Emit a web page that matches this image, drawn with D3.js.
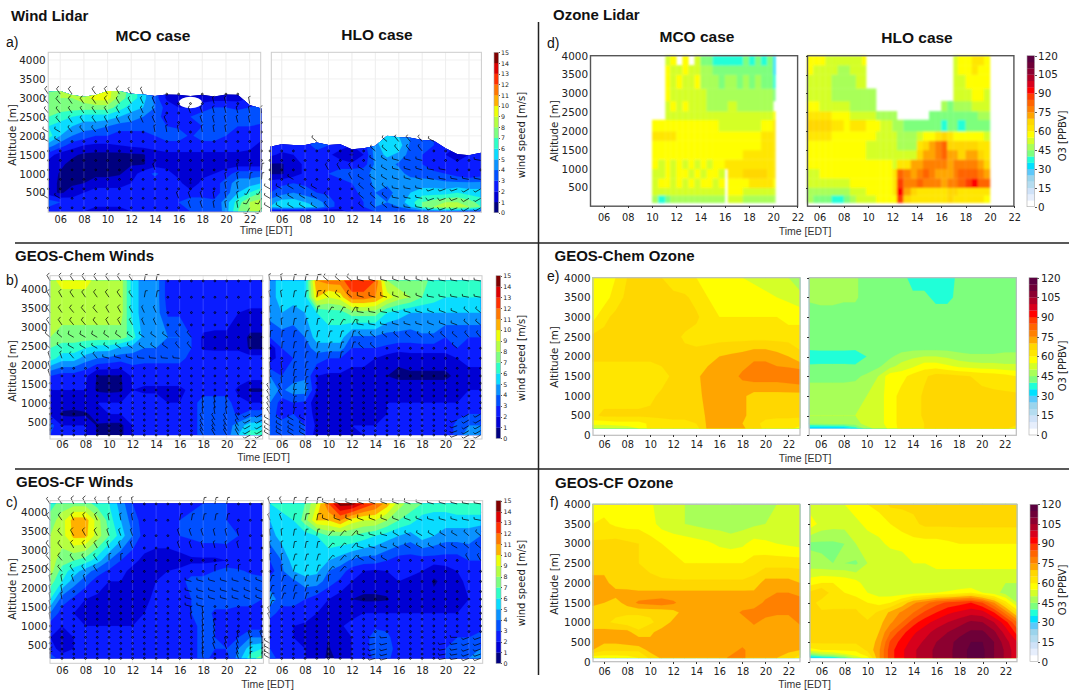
<!DOCTYPE html>
<html>
<head>
<meta charset="utf-8">
<script src="https://cdn.jsdelivr.net/npm/d3@7"></script>
<style>
  html, body { margin: 0; padding: 0; background: #fff; overflow: hidden; }
  svg { display: block; }
  .tick line, .domain { shape-rendering: crispEdges; }
</style>
</head>
<body>
<svg id="chart" width="1069" height="690"></svg>
<script>
const _ = null;

// Shared axis values
const hours = [5, 6, 7, 8, 9, 10, 11, 12, 13, 14, 15, 16, 17, 18, 19, 20, 21, 22, 23];
const timeTicks = [6, 8, 10, 12, 14, 16, 18, 20, 22];
const altTicks = [500, 1000, 1500, 2000, 2500, 3000, 3500, 4000];
const altTicksZero = [0, 500, 1000, 1500, 2000, 2500, 3000, 3500, 4000];

const windBands = [0, 1, 2, 3, 4, 5, 6, 7, 8, 9, 10, 11, 12, 13, 14];
const windColors = ['#00007f', '#0000d4', '#0a1cff', '#0050ff', '#0a92ff', '#0adcff', '#2dffc8', '#7dff80',
    '#b5ff41', '#ecff08', '#ffb000', '#ff7700', '#ff3000', '#dc0000', '#800000'];
const windTicks = [0, 1, 2, 3, 4, 5, 6, 7, 8, 9, 10, 11, 12, 13, 14, 15];

const ozoneBands = [0, 5, 10, 15, 20, 25, 30, 35, 40, 45, 50, 55, 60, 65, 70, 75, 80, 85, 90, 95, 100, 105, 110, 115];
const ozoneColors = ['#ffffff', '#e6eefc', '#cfe2f8', '#b4dcf0', '#9bd4ec', '#5cc8fa', '#00e0ff', '#20ffd8',
    '#7dff7d', '#a8ff58', '#d4ff28', '#ffff00', '#ffe600', '#ffd700', '#ffa500', '#ff8000',
    '#ff6400', '#ff3c00', '#ff0000', '#d8001c', '#b00026', '#8c0030', '#6e0038', '#5c003f'];
const ozoneTicks = [0, 15, 30, 45, 60, 75, 90, 105, 120];

// a) wind lidar
const lidarWindMcoAlts = [0, 250, 500, 750, 1000, 1250, 1500, 1750, 2000, 2250, 2500, 2750, 3000, 3250];
const lidarWindMco = [
    [2.5, 2.5, 2.5, 2, 1.5, 1.5, 1.5, 2, 2.5, 2.5, 2.5, 2.5, 3, 3, 3, 4.5, 7, 8, 8.5],
    [3.5, 3, 2.5, 2.5, 2.5, 2.5, 2.5, 2.5, 2.5, 2.5, 2.5, 3, 3.5, 3.5, 3.2, 4.5, 6.5, 8, 8.5],
    [1.5, 0.8, 1.5, 2, 2.5, 2.5, 2.5, 2.5, 2.5, 2.5, 2.5, 2.5, 2.5, 2.5, 2.5, 3.5, 5, 6, 7],
    [1.5, 0.8, 0.8, 1, 1.5, 1.5, 1.5, 2, 2.5, 2.5, 2.5, 2.5, 0.8, 2.5, 2.5, 3.5, 4.5, 4.5, 5],
    [1.5, 0.9, 0.8, 0.7, 0.7, 0.7, 0.9, 1.5, 2.5, 3.2, 2.5, 1.5, 1.5, 1.5, 2, 2.5, 3.5, 3.5, 3.5],
    [1.5, 1.2, 0.7, 0.6, 0.5, 0.6, 0.7, 0.9, 0.9, 1.5, 1.5, 1.5, 1.5, 1.2, 1.5, 1.5, 1.5, 1.5, 1.5],
    [2.5, 1.5, 1.2, 0.8, 0.7, 0.7, 0.7, 0.8, 0.9, 1.5, 1.8, 1.8, 1.8, 1.8, 1.8, 1.8, 1.8, 1.8, 1.8],
    [4.5, 3.5, 2.5, 2, 1.8, 1.8, 2, 2.2, 2.4, 2.5, 2.5, 2.5, 2.5, 2.5, 2.5, 2.5, 2.5, 2.2, 1.8],
    [6.5, 5, 4, 3.5, 3, 3, 2.5, 2.5, 2.5, 3, 3.6, 3.6, 2.8, 3.6, 3.6, 3, 2.8, 2.8, 2.2],
    [6, 5.5, 5, 4.5, 4.5, 4, 3.5, 3.5, 3.5, 3.5, 3, 2.8, 2.6, 3, 3, 3, 3, 3, 2.8],
    [7, 6.5, 6, 5.5, 5.5, 5.5, 5, 4.5, 4, 3.5, 2.5, 2.8, 3, 3.5, 3.5, 3, 3.5, 3.5, 3.5],
    [7.5, 7.5, 7.5, 7.5, 7.5, 7.5, 6.5, 5.5, 5, 4, 2.5, 2, 2, 2.5, 3, 3, 2.8, 3, 3.5],
    [7.5, 8, 8, 8.5, 9.5, 9.5, 7.5, 6.5, 5.5, 3.5, 1.8, 1.5, 1.5, 1.5, 1.5, 1.5, 1.5, 2, 2],
    [7.5, 8, 8, 8.5, 9.5, 9.5, 8, 6.5, 5.5, 3.5, 1.8, 1.5, 1.5, 1.5, 1.5, 1.5, 1.5, 2, 2]
];
const lidarWindMcoTop = [3160, 3180, 3075, 3030, 3075, 3180, 3180, 3110, 3090, 3050, 3090, 3080, 3050, 3080, 3040, 3090, 3080, 2810, 2720];
const lidarWindMcoDirs = [
    [300, 320, 330, 330, 340, 350, 210],
    [270, 300, 330, 340, 350, 350, 5],
    [300, 320, 340, 350, 350, 350, 0],
    [320, 325, 330, 335, 340, 345, 350],
    [325, 325, 330, 335, 345, 350, 350]
];
const lidarWindMcoGap = { hour: 17, alt: 2880, halfHours: 0.98, halfAlt: 150 };

const lidarWindHloAlts = [0, 125, 250, 500, 750, 1000, 1250, 1500, 1750, 2000];
const lidarWindHlo = [
    [1.5, 1, 1, 0.8, 0.8, 0.8, 1.5, 2.5, 2.5, 3, 3, 3, 3, 3, 3.5, 3.5, 3.5, 3, 3],
    [5, 5.5, 5.5, 5.5, 5, 3.5, 2.5, 2.5, 3, 4, 3.5, 4, 5, 7, 8, 8.5, 8.5, 8, 7],
    [4.5, 5.5, 5.5, 5, 4.5, 3.5, 2.5, 2.5, 3, 4, 4, 4.5, 5.5, 7, 7.5, 8, 8, 7.5, 6.5],
    [3, 3.5, 4, 3.5, 3, 2.8, 2.5, 2.5, 3.5, 4, 3.5, 4.5, 5, 5.5, 5.5, 5.5, 6, 5.5, 5.5],
    [2.5, 2.8, 3, 2.8, 2.5, 2.5, 2.5, 3, 3.5, 4.2, 4.2, 4.5, 4.8, 4.5, 4.5, 4.2, 4.2, 4.2, 4.2],
    [0.9, 0.9, 1.5, 2.2, 2.5, 3, 3.5, 3.8, 3.8, 4.2, 4.5, 4.5, 3.5, 3.5, 3.2, 3, 2.5, 2, 2.5],
    [0.9, 0.9, 1.5, 2.2, 2.5, 2.5, 2.5, 2.2, 2.5, 4.2, 4.5, 3.8, 3.5, 3, 2.5, 2.2, 2.2, 2.5, 3],
    [2.2, 1.8, 2, 2.5, 2.5, 2.2, 1.5, 0.8, 2, 4.5, 5.2, 4.8, 3.5, 3, 2.5, 2, 1.5, 2, 3],
    [2.5, 2.5, 2.5, 2.5, 3.5, 3, 2.5, 2, 2.5, 4.5, 6, 5.5, 3.8, 3, 3, 2.5, 2, 2, 3],
    [2.5, 2.5, 2.5, 2.5, 3.5, 3, 2.5, 2, 2.5, 5, 6, 5, 4, 3, 3, 2.5, 2, 2, 3]
];
const lidarWindHloTop = [1710, 1780, 1760, 1760, 1820, 1760, 1775, 1645, 1670, 1740, 2000, 1960, 1950, 1890, 1870, 1670, 1520, 1490, 1550];
const lidarWindHloDirs = [
    [300, 300, 320, 310, 280, 250, 240],
    [280, 300, 330, 300, 285, 280, 280],
    [290, 310, 340, 310, 320, 300, 320]
];

const lidarBarbAlts = [100, 350, 600, 850, 1100, 1350, 1600, 1850, 2100, 2350, 2600, 2850, 3100];
const lidarDirAlts = [250, 1000, 1750, 2500, 3250];

// b) and c) model winds, shared levels
const modelWindAlts = [150, 400, 700, 1000, 1340, 1710, 2180, 2450, 2730, 3380, 3790, 4230];
const modelBarbAlts = [148, 262, 394, 545, 703, 854, 1003, 1180, 1338, 1515, 1709, 1911, 2176, 2441, 2732, 3058, 3384, 3790, 4220];
const modelDirAlts = [300, 1000, 1900, 2500, 3300, 4200];
const dirHours = [5, 8, 11, 14, 17, 20, 23];

const chemWindMco = [
    [3, 2, 2, 2, 0.9, 0.7, 0.7, 2, 2.5, 2.5, 2.5, 2.5, 2.5, 3.5, 3.5, 3.5, 5, 6.5, 6.5],
    [3.5, 2, 2, 2, 0.9, 0.7, 0.7, 2, 2.5, 2.5, 2.5, 2.5, 2.5, 3.5, 3.5, 3.5, 4.5, 5.5, 5.5],
    [1.8, 0.8, 0.7, 0.8, 1.5, 2, 2, 2.5, 2.5, 2.5, 2, 2, 2.5, 3.5, 3.5, 3.5, 2.8, 3.5, 3.5],
    [1.8, 1.5, 1.5, 1.8, 2, 2, 2, 2.5, 2.5, 2.5, 2, 2, 2.5, 3.5, 3.5, 3.5, 2.2, 2, 2],
    [2, 2, 2, 2, 0.8, 0.7, 0.8, 2, 1.8, 1.8, 1.8, 1.8, 2.2, 2.5, 2.5, 2.5, 1.8, 0.8, 0.8],
    [3, 2.5, 2.5, 2.2, 0.9, 0.9, 0.9, 2.2, 2.5, 2.5, 2.5, 2.5, 2.5, 2.5, 2.5, 2.5, 2.5, 2.5, 2.5],
    [6.5, 5.5, 5.5, 4.5, 4, 3.8, 3.5, 3.5, 3.2, 3.2, 3.2, 3.2, 2.8, 2.8, 2.5, 2.5, 2.5, 2.5, 2.5],
    [7, 6.5, 6.5, 6, 5.5, 5.5, 4.8, 4.5, 4, 4, 3.8, 3.8, 3, 1.8, 1.8, 1.8, 1.8, 0.8, 0.8],
    [8, 7.5, 7.5, 7.5, 7.5, 7.5, 7.5, 6.5, 4.5, 4.5, 4, 4, 3, 1.8, 1.8, 1.8, 1.5, 0.8, 0.8],
    [8.5, 8.5, 8.5, 8.5, 8.5, 8.5, 8.5, 5.5, 4.5, 4.5, 2.8, 2.8, 2.8, 2.8, 2.5, 2.5, 2, 1.8, 1.8],
    [8.5, 8.5, 8.5, 8.5, 8.5, 8.5, 8.5, 5.5, 4.5, 4.5, 2.5, 2.5, 2.5, 2.5, 2.5, 2.5, 2.5, 2.5, 2.5],
    [8.5, 9.5, 9.5, 9.5, 8.5, 8.5, 8.5, 5.5, 4.5, 4.5, 2.5, 2.5, 2.5, 2.5, 2.5, 2.5, 2.5, 2.5, 2.5]
];
const chemWindMcoDirs = [
    [0, 0, 0, 0, 330, 330, 240],
    [350, 0, 0, 0, 350, 350, 240],
    [340, 320, 285, 275, 275, 300, 320],
    [310, 300, 305, 305, 320, 330, 340],
    [325, 320, 330, 335, 330, 340, 350],
    [330, 325, 325, 10, 20, 10, 10]
];

const chemWindHlo = [
    [4, 3.5, 3, 3, 1.5, 1, 1, 1.5, 2, 2, 2, 2, 2, 2, 2, 2, 3.5, 4.5, 4.5],
    [4, 3.5, 3, 3, 1.8, 1.2, 1.5, 2, 2, 2, 2, 2, 2, 2, 2, 2, 3.5, 4, 4],
    [3.5, 2.5, 3, 2.8, 1.5, 1, 1, 1.8, 1.8, 1.8, 2, 2, 2, 2, 2, 2, 2.5, 3, 3],
    [4, 2.5, 3, 2.8, 1.2, 1, 1, 1.5, 1.5, 1.5, 2, 2, 2, 2, 2, 2, 2, 2, 2.2],
    [4.5, 3.8, 4.5, 4.5, 2, 1.5, 1.5, 1.5, 1.5, 1.5, 1.5, 1.5, 1.5, 1.5, 1.5, 1.5, 1.8, 2, 2],
    [4, 3, 3.5, 3.8, 2, 1.8, 1.8, 1.5, 1.5, 1.5, 1, 0.8, 0.8, 0.8, 0.8, 0.8, 1.2, 1.5, 1.5],
    [1.5, 2.5, 3, 3, 3.5, 3, 3, 2.5, 2.5, 2, 1.5, 1.2, 1.5, 1.5, 1.5, 1.5, 2, 2.5, 2.5],
    [1.2, 3, 3.5, 3.5, 4.5, 4.5, 4.5, 3, 3, 3, 2.8, 2.5, 2.5, 2.5, 2.5, 2.5, 3, 2.8, 2.8],
    [3, 3.5, 3.5, 4, 5.5, 5.5, 5.5, 3.8, 3.8, 3.8, 3.5, 3.5, 3.5, 3.8, 3.8, 3, 3, 3, 3],
    [4.5, 5, 4.5, 5, 6, 6.5, 6.5, 7.5, 7.5, 7.5, 6, 5.5, 5, 5, 5, 5, 5, 5, 5],
    [4.5, 5.5, 5.5, 5.5, 10, 9, 9.5, 11.5, 11.5, 11, 9.5, 8.5, 8, 7, 6.5, 6, 6, 6, 6],
    [4.5, 5.5, 5.5, 5.5, 11, 11.5, 11.5, 13, 13, 12, 8, 7.5, 7.5, 7.5, 6.5, 6.5, 6.5, 7, 7]
];
const chemWindHloDirs = [
    [300, 300, 0, 0, 0, 250, 240],
    [330, 10, 0, 0, 0, 0, 240],
    [355, 10, 10, 0, 0, 0, 320],
    [5, 10, 15, 310, 310, 310, 320],
    [355, 10, 30, 280, 285, 290, 310],
    [350, 10, 310, 285, 290, 280, 280]
];

const cfWindMco = [
    [3.5, 2.5, 2, 2, 2, 2, 2, 2, 2, 2.5, 2.5, 2.5, 2.5, 3.5, 2.5, 2.5, 4.5, 6.5, 7.5],
    [2.5, 1.5, 2, 2, 2, 2, 2, 2, 2, 2.5, 2.5, 2.5, 2.5, 3.5, 3, 3, 4, 5.5, 6],
    [2, 0.8, 2, 2, 2, 2, 2, 2, 2.2, 2.5, 2.5, 2.5, 2.5, 3.5, 3, 2.8, 3, 4, 4],
    [2.5, 2, 2, 2, 2, 2, 2, 2, 2.2, 2.5, 2.5, 2.5, 2.5, 3.5, 3, 2.8, 2.5, 2.5, 2.5],
    [4, 2.5, 2, 1.5, 1.5, 1.5, 0.9, 1.8, 2, 2.5, 2.5, 2.8, 3, 3.5, 2.8, 2.8, 2.5, 2.5, 2.5],
    [6, 3.5, 2.8, 2, 1.8, 1.8, 1.8, 1.8, 1.8, 2.2, 2.5, 2.5, 3, 3.5, 3.5, 3.5, 3.5, 3.5, 3],
    [7.5, 6, 4.5, 3.5, 2.5, 2, 2, 1.8, 1.8, 2, 2.2, 2.5, 3.5, 3.5, 3.5, 3.8, 3.5, 3.5, 3.5],
    [8.5, 6.5, 5.5, 4.5, 3.5, 2.8, 2.2, 1.8, 1.8, 1.8, 2, 2.2, 2.5, 2.5, 3, 3.5, 3.2, 2.8, 2.5],
    [8.5, 7.5, 7, 6.5, 5.5, 4, 3, 2.2, 1.8, 1.5, 1.5, 1.5, 1.8, 1.8, 1.8, 2, 2, 2, 2],
    [8, 8.5, 10.3, 10.3, 8.5, 7, 5.5, 4, 2.5, 2.5, 2.5, 3, 3.2, 3.5, 3.5, 3.5, 3, 2.5, 2.5],
    [7.5, 8.5, 10.5, 10.5, 8.5, 6.5, 5, 3.5, 2.5, 2.5, 2.5, 3, 3.5, 3.5, 3.5, 3, 2.5, 2.5, 2.5],
    [6.5, 7.5, 7.5, 7.5, 6.5, 6, 4.5, 3, 2.5, 2.5, 2.5, 2.5, 2.5, 3, 3.5, 3, 2.5, 2.5, 2.5]
];
const cfWindMcoDirs = [
    [0, 0, 0, 0, 350, 340, 0],
    [350, 0, 0, 0, 350, 345, 340],
    [350, 340, 0, 280, 285, 285, 290],
    [320, 325, 0, 0, 0, 0, 0],
    [320, 330, 340, 335, 340, 345, 0],
    [325, 335, 350, 10, 10, 10, 10]
];

const cfWindHlo = [
    [3.5, 2.5, 2, 2, 1.5, 0.8, 1.2, 2, 2.5, 3.2, 3.2, 2.5, 2.5, 2.5, 2.5, 3, 3.5, 4, 4.5],
    [3, 2.5, 2, 2, 1.5, 0.9, 1.5, 2, 2.5, 3.5, 3.5, 2.5, 2.5, 2.5, 2.5, 3, 3.5, 3.5, 4],
    [2.2, 2, 2, 1.8, 1.2, 1, 1.5, 2, 2.5, 3.5, 3.2, 2.5, 2.5, 2.5, 2.5, 2.5, 3, 3, 3.5],
    [2.2, 2, 2, 1.8, 1.5, 1.2, 1.8, 2.5, 2.5, 2.8, 2.8, 2.5, 2.5, 2.5, 2.5, 2.5, 2.5, 2.5, 2.5],
    [3.5, 2.5, 2.5, 2.5, 2, 1.5, 1.2, 1.5, 2, 2, 2, 2, 2, 2, 2, 2, 2, 2.2, 2.5],
    [4.5, 3.5, 3.5, 3, 2.5, 2, 1.5, 1, 0.8, 0.8, 0.9, 1.5, 1.5, 1.2, 1.2, 1.2, 1.5, 2, 2.5],
    [3.5, 3.5, 3.8, 4.5, 4.5, 3.5, 2.8, 2, 1.5, 1.5, 1.5, 2, 1.8, 1.5, 0.9, 1.2, 1.5, 2.5, 2.5],
    [2.5, 3.8, 5, 5.5, 5.2, 4, 3.5, 2.5, 2, 1.8, 2, 2.2, 2.2, 2, 1.2, 1.5, 2, 2.5, 2.5],
    [3, 4, 5.5, 5.5, 5.5, 5, 4.5, 3.8, 3.5, 3.5, 3, 2.5, 2.5, 2.5, 2.5, 2.5, 2.5, 3, 3],
    [4.5, 5.5, 5.5, 5.5, 6, 7, 7, 7, 6.5, 6, 5.5, 5, 4.5, 5.5, 5, 4.5, 4.5, 4.5, 4],
    [5, 5.5, 6, 7.5, 10, 10, 11, 9.5, 9, 9, 8, 7, 6.5, 5.5, 5.5, 5.5, 5.5, 5.5, 5.5],
    [6, 6.5, 6.5, 7, 9, 12, 14.5, 14.5, 13, 12, 10.5, 8.5, 7.5, 7, 6.5, 6.5, 7, 7, 7]
];
const cfWindHloDirs = [
    [300, 350, 0, 255, 255, 260, 250],
    [340, 10, 0, 265, 270, 270, 250],
    [20, 15, 0, 0, 330, 340, 350],
    [355, 15, 40, 300, 320, 330, 330],
    [355, 10, 40, 285, 300, 300, 310],
    [340, 10, 290, 290, 290, 285, 280]
];

// d) ozone lidar, cells between edges
const lidarO3AltEdges = [100, 300, 500, 750, 1000, 1250, 1500, 1750, 2000, 2300, 2530, 2800, 3130, 3500, 3750, 4000];
const lidarO3McoHourEdges = [10, 10.5, 11.1, 11.5, 12, 12.5, 13, 13.5, 14, 14.5, 15, 15.5, 16, 16.25, 17, 17.5, 18, 18.5, 19, 19.5, 20, 20.17];
const lidarO3Mco = [
    [45, 38, 43, 46, 46, 46, 47, 47, 47, 46, 46, 47, _, 52, 50, 48, 47, 46, 46, 47, 46],
    [52, 54, 54, 52, 52, 52, 52, 53, 52, 52, 52, 53, _, 56, 55, 54, 52, 52, 50, 50, 50],
    [54, 56, 58, 54, 56, 54, 56, 54, 56, 57, 54, 55, _, 58, 58, 58, 60, 60, 60, 60, 58],
    [54, 54, 58, 53, 56, 58, 54, 57, 54, 57, 58, 54, _, 62, 63, 65, 66, 67, 66, 64, 60],
    [56, 54, 57, 54, 57, 54, 57, 54, 57, 54, 58, 58, 60, 60, 62, 63, 64, 64, 64, 64, 62],
    [57, 57, 58, 56, 57, 56, 57, 57, 57, 58, 59, 59, 59, 59, 59, 60, 60, 62, 62, 64, 63],
    [59, 59, 59, 59, 58, 58, 58, 58, 58, 58, 59, 59, 59, 58, 59, 58, 58, 59, 62, 64, 63],
    [60, 62, 64, 61, 59, 59, 59, 58, 58, 58, 59, 59, 59, 58, 58, 58, 58, 59, 60, 60, 64],
    [58, 58, 58, 58, 56, 56, 56, 56, 56, 56, 56, 54, 54, 54, 54, 54, 54, 54, 56, 58, 64],
    [_, _, 54, 52, 52, 54, 50, 52, 50, 50, 50, 50, 50, 50, 50, 50, 52, 50, 50, 52, 56],
    [_, _, 54, 56, 52, 56, 50, 52, 50, 48, 48, 48, 48, 50, 48, 48, 48, 48, 48, 48, _],
    [_, _, 56, 52, 54, 52, 50, 52, 50, 48, 46, 46, 46, 48, 46, 46, 46, 46, 46, 46, 40],
    [_, _, 57, 52, 56, 54, 52, 56, 48, 48, 46, 44, 46, 46, 44, 46, 44, 46, 44, 42, 36],
    [_, _, 58, 52, 54, 56, 50, 54, 46, 46, 42, 42, 44, 42, 44, 42, 42, 42, 44, 42, 34],
    [_, _, 52, 56, _, 56, _, 54, 44, 42, 38, 36, 38, 38, 36, 42, 36, 40, 38, 44, 34]
];
const lidarO3HloHourEdges = [5, 5.5, 6, 6.5, 7, 7.5, 8, 8.5, 9, 9.5, 9.83, 10.65, 11, 11.5, 12, 12.36, 12.9, 13.5, 14, 14.5, 15, 15.5, 16, 16.5, 17, 17.35, 18, 18.5, 19, 19.5, 20];
const lidarO3Hlo = [
    [46, 44, 42, 40, 38, 38, 44, 48, 52, 54, 52, 55, 56, 55, 58, 85, 66, 62, 60, 60, 60, 62, 63, 66, 62, 62, 60, 60, 60, 58],
    [48, 48, 46, 48, 46, 48, 48, 52, 54, 54, 56, 56, 56, 56, 60, 92, 72, 66, 62, 62, 62, 64, 64, 66, 66, 64, 64, 62, 62, 60],
    [52, 52, 52, 54, 54, 54, 54, 56, 56, 58, 58, 58, 58, 58, 62, 88, 78, 76, 80, 78, 76, 76, 74, 76, 78, 80, 85, 92, 84, 80],
    [54, 54, 55, 55, 56, 56, 56, 56, 58, 58, 58, 58, 58, 58, 60, 82, 76, 74, 78, 80, 76, 74, 74, 72, 76, 80, 84, 80, 76, 74],
    [56, 57, 57, 58, 57, 57, 58, 58, 58, 58, 58, 56, 56, 55, 54, 60, 62, 70, 72, 75, 75, 77, 78, 74, 76, 76, 78, 76, 72, 68],
    [57, 58, 58, 58, 58, 57, 57, 56, 56, 56, 54, 54, 50, 52, 50, 54, 50, 54, 68, 70, 74, 78, 80, 72, 70, 68, 72, 70, 66, 64],
    [58, 58, 58, 58, 58, 58, 57, 57, 56, 56, 54, 54, 52, 52, 50, 48, 46, 48, 60, 66, 70, 78, 80, 68, 65, 65, 66, 66, 63, 60],
    [60, 60, 60, 60, 59, 59, 58, 58, 57, 57, 56, 54, 52, 52, 50, 48, 46, 46, 54, 57, 59, 64, 68, 60, 59, 57, 59, 59, 57, 54],
    [66, 66, 67, 66, 62, 60, 58, 60, 60, 60, 56, 55, 54, 52, 48, 46, 44, 44, 44, 42, 42, 40, 38, 40, 40, 38, 40, 42, 42, 44],
    [60, 62, 62, 60, 58, 56, 56, 54, 52, 52, 50, 48, 48, 46, 46, _, _, _, _, _, 44, 42, 42, 40, 40, 40, 44, 44, 46, 46],
    [56, 56, 54, 52, 52, 50, 50, 48, 48, 48, 48, _, _, _, _, _, _, _, _, _, _, _, 46, 44, 46, 48, 48, 50, 50, 50],
    [52, 52, 50, 50, 48, 48, 46, 46, 48, 46, 46, _, _, _, _, _, _, _, _, _, _, _, _, _, 50, 52, 54, 56, 56, 54],
    [54, 52, 50, 50, 48, 46, 46, 48, 50, 50, _, _, _, _, _, _, _, _, _, _, _, _, _, _, 52, 54, 56, 58, 58, 56],
    [56, 54, 52, 50, 50, 48, 48, 50, 52, 54, _, _, _, _, _, _, _, _, _, _, _, _, _, _, 54, 56, 58, 60, 58, 58],
    [58, 56, 56, 52, 52, 50, 52, 54, 54, 56, _, _, _, _, _, _, _, _, _, _, _, _, _, _, 54, 58, 58, 60, 60, 58]
];

// e) GEOS-Chem ozone
const chemO3McoAlts = [178, 300, 500, 1000, 1500, 2000, 2500, 3000, 3500, 4000];
const chemO3Mco = [
    [50, 50, 50, 52, 55, 62, 63, 63, 63, 63, 71, 72, 72, 71, 67, 64, 63, 62, 58],
    [57, 57, 58, 58, 58, 61, 63, 64, 64, 65, 71, 72, 72, 70, 66, 64, 63, 63, 62],
    [64, 66, 66, 66, 66, 66, 66, 66, 66, 67, 71, 72, 72, 71, 68, 66, 66, 66, 66],
    [62, 63, 63, 63, 63, 64, 66, 66, 66, 69, 71, 72, 72, 71, 68, 68, 68, 68, 68],
    [62, 62, 62, 62, 62, 62, 63, 66, 67, 69, 72, 73, 73, 76, 78, 78, 78, 79, 80],
    [66, 66, 66, 66, 66, 66, 67, 67, 67, 67, 68, 70, 71, 72, 74, 74, 72, 70, 66],
    [66, 66, 66, 66, 66, 67, 67, 67, 64, 63, 63, 63, 63, 63, 63, 63, 63, 63, 63],
    [58, 64, 66, 67, 67, 68, 68, 68, 68, 66, 62, 60, 60, 60, 60, 60, 60, 58, 58],
    [56, 57, 63, 66, 67, 68, 68, 66, 66, 63, 60, 59, 58, 58, 57, 56, 55, 54, 52],
    [55, 56, 60, 65, 67, 67, 65, 63, 60, 60, 58, 56, 55, 55, 54, 53, 52, 50, 46]
];
const chemO3HloAlts = [178, 300, 500, 1000, 1500, 1750, 2000, 2250, 2500, 3000, 3500, 4000];
const chemO3Hlo = [
    [30, 30, 30, 31, 37, 48, 52, 56, 62, 62, 65, 66, 66, 66, 66, 66, 66, 66, 63],
    [45, 46, 47, 47, 48, 52, 53, 57, 62, 62, 65, 66, 66, 66, 66, 66, 66, 66, 66],
    [50, 50, 50, 50, 50, 52, 53, 57, 62, 62, 66, 66, 66, 66, 66, 66, 66, 66, 66],
    [47, 47, 47, 47, 48, 50, 53, 57, 62, 62, 66, 66, 66, 66, 66, 66, 66, 66, 66],
    [44, 44, 44, 44, 44, 46, 50, 58, 58, 62, 64, 67, 67, 66, 65, 64, 63, 62, 60],
    [41, 41, 41, 41, 41, 42, 44, 48, 52, 54, 58, 58, 56, 54, 53, 52, 52, 51, 51],
    [36, 37, 37, 37, 36, 40, 42, 44, 47, 49, 50, 50, 49, 47, 46, 46, 46, 47, 47],
    [42, 42, 42, 42, 42, 42, 42, 42, 42, 42, 42, 42, 42, 42, 42, 42, 42, 42, 42],
    [42, 42, 42, 42, 42, 42, 42, 42, 42, 42, 42, 42, 42, 42, 42, 42, 42, 42, 42],
    [42, 42, 42, 42, 42, 42, 42, 42, 42, 42, 42, 42, 42, 42, 42, 42, 42, 42, 42],
    [46, 47, 47, 46, 46, 42, 42, 42, 42, 41, 41, 39, 39, 41, 42, 42, 42, 42, 42],
    [47, 47, 47, 46, 46, 42, 42, 42, 42, 38, 38, 38, 38, 41, 42, 42, 42, 42, 42]
];

// f) GEOS-CF ozone
const cfO3McoAlts = [100, 300, 500, 750, 1000, 1250, 1500, 1750, 2000, 2500, 3000, 3500, 4000];
const cfO3Mco = [
    [57, 57, 57, 58, 60, 66, 71, 71, 71, 71, 72, 73, 76, 76, 72, 71, 70, 68, 62],
    [70, 66, 66, 66, 66, 72, 72, 72, 72, 72, 72, 72, 73, 76, 72, 72, 71, 71, 70],
    [71, 71, 71, 72, 74, 71, 72, 72, 72, 72, 72, 72, 72, 73, 72, 72, 71, 71, 71],
    [72, 72, 72, 72, 66, 69, 72, 72, 72, 72, 72, 72, 72, 72, 72, 72, 72, 72, 72],
    [66, 66, 64, 62, 62, 64, 67, 71, 72, 72, 72, 72, 72, 72, 76, 73, 72, 72, 76],
    [66, 66, 66, 66, 66, 66, 66, 68, 72, 72, 72, 72, 72, 76, 77, 77, 76, 76, 78],
    [72, 70, 68, 72, 76, 77, 78, 76, 72, 72, 71, 71, 71, 71, 72, 76, 78, 79, 80],
    [73, 73, 72, 72, 71, 71, 71, 71, 71, 71, 71, 71, 71, 71, 71, 73, 75, 75, 72],
    [72, 72, 67, 66, 66, 66, 66, 66, 66, 66, 66, 66, 66, 66, 67, 72, 72, 72, 70],
    [67, 67, 67, 66, 65, 64, 62, 61, 60, 60, 60, 60, 60, 60, 62, 63, 63, 63, 63],
    [66, 66, 67, 66, 65, 62, 60, 59, 58, 57, 56, 54, 53, 54, 57, 56, 55, 54, 53],
    [60, 61, 59, 58, 58, 57, 53, 51, 50, 49, 48, 48, 47, 48, 49, 50, 51, 52, 52],
    [58, 58, 58, 58, 58, 56, 52, 52, 50, 48, 47, 47, 47, 47, 48, 48, 50, 52, 52]
];
const cfO3HloAlts = [100, 200, 300, 500, 750, 1000, 1250, 1500, 1750, 2000, 2500, 3000, 3500, 4000];
const cfO3Hlo = [
    [32, 34, 36, 42, 52, 58, 74, 88, 94, 99, 103, 106, 108, 113, 116, 116, 110, 104, 96],
    [45, 50, 52, 55, 58, 63, 74, 88, 94, 99, 103, 106, 108, 113, 116, 116, 110, 104, 96],
    [58, 60, 60, 61, 61, 66, 74, 88, 94, 99, 103, 106, 108, 113, 116, 116, 110, 104, 96],
    [66, 66, 66, 66, 66, 66, 72, 86, 92, 97, 101, 105, 108, 112, 115, 115, 110, 102, 95],
    [66, 66, 66, 66, 66, 66, 70, 80, 88, 94, 98, 102, 105, 108, 111, 111, 106, 98, 88],
    [66, 66, 66, 66, 66, 66, 68, 74, 80, 88, 93, 97, 100, 103, 106, 105, 100, 92, 80],
    [66, 66, 66, 66, 66, 62, 66, 71, 76, 80, 86, 90, 94, 96, 98, 97, 90, 78, 64],
    [68, 62, 63, 63, 63, 60, 58, 60, 66, 74, 78, 83, 86, 88, 90, 85, 75, 62, 50],
    [66, 70, 62, 60, 58, 55, 53, 52, 52, 53, 54, 55, 56, 58, 60, 55, 52, 48, 46],
    [58, 60, 60, 59, 57, 52, 51, 50, 50, 50, 50, 50, 50, 50, 50, 50, 50, 50, 50],
    [47, 46, 45, 45, 44, 50, 52, 52, 52, 55, 55, 57, 57, 57, 57, 57, 57, 57, 57],
    [44, 44, 44, 45, 50, 53, 54, 56, 57, 58, 58, 58, 59, 60, 60, 60, 60, 60, 60],
    [58, 53, 52, 52, 54, 56, 57, 60, 62, 64, 66, 66, 66, 66, 66, 66, 66, 66, 66],
    [52, 51, 52, 55, 57, 60, 62, 66, 66, 66, 66, 66, 66, 66, 66, 66, 66, 66, 66]
];

const svg = d3.select('#chart');
const sans = '"Liberation Sans", Arial, sans-serif';
const deja = '"DejaVu Sans", sans-serif';

// Lidar cells are soft in the source image
svg.append('defs').append('filter')
    .attr('id', 'soft')
    .append('feGaussianBlur')
    .attr('stdDeviation', 1);

const windColor = d3.scaleThreshold().domain(windBands.slice(1)).range(windColors);
const ozoneColor = d3.scaleThreshold().domain(ozoneBands.slice(1)).range(ozoneColors);

// Filled contours of a level-by-hour grid
function drawContours(g, grid, alts, bands, color, x, y) {
    const flat = grid.flat();
    const contours = d3.contours()
        .size([hours.length, alts.length])
        .thresholds(bands)(flat);

    const hourAt = d3.scaleLinear().domain(d3.range(hours.length)).range(hours).clamp(true);
    const altAt = d3.scaleLinear().domain(d3.range(alts.length)).range(alts).clamp(true);
    const path = d3.geoPath(d3.geoTransform({
        point(px, py) {
            this.stream.point(x(hourAt(px - 0.5)), y(altAt(py - 0.5)));
        }
    }));

    g.selectAll('path.band')
        .data(contours)
        .enter()
        .append('path')
        .attr('class', 'band')
        .attr('d', path)
        .attr('fill', d => color(d.value))
        .attr('stroke', d => color(d.value))
        .attr('stroke-width', 0.2);
}

function nearestIndex(list, v) {
    return d3.leastIndex(list, d => Math.abs(d - v));
}

// Wind barbs: open circle when calm, otherwise a shaft with one feather
function drawBarbs(g, grid, alts, barbAlts, dirAlts, dirs, x, y, tops) {
    const len = 6.5;
    const points = [];
    hours.forEach((h, col) => {
        barbAlts.forEach(alt => {
            if (tops && alt > tops[col] + 40) return;
            const speed = grid[nearestIndex(alts, alt)][col];
            const dir = dirs[nearestIndex(dirAlts, alt)][nearestIndex(dirHours, h)];
            points.push({h, alt, speed, dir});
        });
    });

    g.selectAll('circle.calm')
        .data(points.filter(d => d.speed < 3))
        .enter()
        .append('circle')
        .attr('class', 'calm')
        .attr('cx', d => x(d.h))
        .attr('cy', d => y(d.alt))
        .attr('r', 0.9)
        .attr('fill', 'none')
        .attr('stroke', '#000')
        .attr('stroke-width', 0.8);

    g.selectAll('path.barb')
        .data(points.filter(d => d.speed >= 3))
        .enter()
        .append('path')
        .attr('class', 'barb')
        .attr('d', d => {
            const a = d.dir * Math.PI / 180;
            const b = (d.dir + 75) * Math.PI / 180;
            const x0 = x(d.h), y0 = y(d.alt);
            const x1 = x0 + len * Math.sin(a), y1 = y0 - len * Math.cos(a);
            const f = d.speed >= 7.5 ? 3.5 : 2.2;
            return `M${x0},${y0}L${x1},${y1}L${x1 + f * Math.sin(b)},${y1 - f * Math.cos(b)}`;
        })
        .attr('fill', 'none')
        .attr('stroke', '#000')
        .attr('stroke-width', 0.7);
}

// Frame, grid and axes of one panel
function drawFrame(g, p, x, y, ticks, showY, style) {
    g.append('rect')
        .attr('x', p.frame[0])
        .attr('y', p.frame[2])
        .attr('width', p.frame[1] - p.frame[0])
        .attr('height', p.frame[3] - p.frame[2])
        .attr('fill', 'none')
        .attr('stroke', style.frame)
        .attr('stroke-width', style.frameWidth);

    const xAxis = g.append('g')
        .attr('transform', `translate(0,${p.frame[3]})`)
        .call(d3.axisBottom(x).tickValues(timeTicks).tickFormat(d => d3.format('02')(d)).tickSize(style.tickSize).tickPadding(p.pad));
    xAxis.select('.domain').remove();
    xAxis.selectAll('text').attr('font-family', deja).attr('font-size', 9.8).attr('fill', '#222');
    xAxis.selectAll('line').attr('stroke', '#333');

    const yAxis = g.append('g')
        .attr('transform', `translate(${p.frame[0]},0)`)
        .call(d3.axisLeft(y).tickValues(ticks).tickSize(showY ? 0 : style.tickSize).tickPadding(2.5));
    yAxis.select('.domain').remove();
    yAxis.selectAll('line').attr('stroke', '#333');
    yAxis.selectAll('text')
        .attr('font-family', deja)
        .attr('font-size', 10.4)
        .attr('fill', '#222')
        .text(d => showY ? d : '');
}

function windPanel(p, grid, alts, barbAlts, dirAlts, dirs, tops, gap) {
    const x = d3.scaleLinear().domain([5, 23]).range(p.xr);
    const y = d3.scaleLinear().domain([0, 4000]).range(p.yr);
    const g = svg.append('g');

    // light grid beneath the field
    timeTicks.forEach(t => g.append('line').attr('x1', x(t)).attr('x2', x(t)).attr('y1', p.frame[2]).attr('y2', p.frame[3]).attr('stroke', '#e6e6e6').attr('stroke-width', 0.8));
    altTicks.forEach(t => g.append('line').attr('x1', p.frame[0]).attr('x2', p.frame[1]).attr('y1', y(t)).attr('y2', y(t)).attr('stroke', '#eeeeee').attr('stroke-width', 0.8));

    const field = g.append('g');
    if (tops) {
        const clipArea = d3.area().x((d, i) => x(hours[i])).y0(y(0)).y1(d => y(d));
        g.append('clipPath').attr('id', p.id).append('path').attr('d', clipArea(tops));
        field.attr('clip-path', `url(#${p.id})`);
    }
    drawContours(field, grid, alts, windBands, windColor, x, y);

    if (gap) {
        g.append('ellipse')
            .attr('cx', x(gap.hour))
            .attr('cy', y(gap.alt))
            .attr('rx', x(gap.hour + gap.halfHours) - x(gap.hour))
            .attr('ry', y(gap.alt - gap.halfAlt) - y(gap.alt))
            .attr('fill', '#fff');
    }

    // the grid shows faintly through the field
    timeTicks.forEach(t => g.append('line').attr('x1', x(t)).attr('x2', x(t)).attr('y1', p.frame[2]).attr('y2', p.frame[3]).attr('stroke', '#fff').attr('stroke-opacity', 0.22).attr('stroke-width', 0.8));

    drawBarbs(g, grid, alts, barbAlts, dirAlts, dirs, x, y, tops);
    drawFrame(g, p, x, y, altTicks, p.showY, {frame: '#cccccc', frameWidth: 1, tickSize: 0});
}

function ozoneContourPanel(p, grid, alts) {
    const x = d3.scaleLinear().domain([5, 23]).range(p.xr);
    const y = d3.scaleLinear().domain([0, 4000]).range(p.yr);
    const g = svg.append('g');
    drawContours(g.append('g'), grid, alts, ozoneBands, ozoneColor, x, y);
    drawFrame(g, p, x, y, altTicksZero, p.showY, {frame: '#bdbdbd', frameWidth: 1.2, tickSize: 2});
}

function ozoneCellPanel(p, grid, altEdges, hourEdges) {
    const x = d3.scaleLinear().domain([5, 22]).range(p.xr);
    const y = d3.scaleLinear().domain([0, 4000]).range(p.yr);
    const g = svg.append('g');
    const cells = [];
    grid.forEach((row, r) => row.forEach((v, c) => {
        if (v !== null) cells.push({v, r, c});
    }));
    g.append('g')
        .attr('filter', 'url(#soft)')
        .selectAll('rect.cell')
        .data(cells)
        .enter()
        .append('rect')
        .attr('class', 'cell')
        .attr('x', d => x(hourEdges[d.c]))
        .attr('width', d => x(hourEdges[d.c + 1]) - x(hourEdges[d.c]) + 0.3)
        .attr('y', d => y(altEdges[d.r + 1]))
        .attr('height', d => y(altEdges[d.r]) - y(altEdges[d.r + 1]) + 0.3)
        .attr('fill', d => ozoneColor(d.v));
    drawFrame(g, p, x, y, altTicks, p.showY, {frame: '#555555', frameWidth: 1.4, tickSize: 2});
}

function colorbar(c, bands, color, top, ticks, fontSize, label) {
    const scale = d3.scaleLinear().domain([bands[0], top]).range([c.y1, c.y0]);
    const g = svg.append('g');
    const step = bands[1] - bands[0];
    g.selectAll('rect')
        .data(bands)
        .enter()
        .append('rect')
        .attr('x', c.x0)
        .attr('width', c.x1 - c.x0)
        .attr('y', d => scale(d + step))
        .attr('height', d => scale(d) - scale(d + step) + 0.2)
        .attr('fill', d => color(d));
    g.append('rect')
        .attr('x', c.x0).attr('width', c.x1 - c.x0)
        .attr('y', c.y0).attr('height', c.y1 - c.y0)
        .attr('fill', 'none').attr('stroke', '#aaaaaa').attr('stroke-width', 0.6);
    const axis = g.append('g')
        .attr('transform', `translate(${c.x1},0)`)
        .call(d3.axisRight(scale).tickValues(ticks).tickSize(c.tick).tickPadding(1.5));
    axis.select('.domain').remove();
    axis.selectAll('line').attr('stroke', '#555');
    axis.selectAll('text').attr('font-family', deja).attr('font-size', fontSize).attr('fill', '#222');
    svg.append('text')
        .attr('transform', `translate(${c.labelX},${c.labelY}) rotate(-90)`)
        .attr('text-anchor', 'middle')
        .attr('font-family', deja)
        .attr('font-size', 10)
        .attr('fill', '#222')
        .text(label);
}

function txt(x, y, s, size, opts = {}) {
    return svg.append('text')
        .attr('x', x).attr('y', y)
        .attr('font-family', opts.family || sans)
        .attr('font-size', size)
        .attr('font-weight', opts.bold ? 'bold' : 'normal')
        .attr('text-anchor', opts.anchor || 'start')
        .attr('fill', opts.fill || '#111')
        .text(s);
}

function altLabel(x, y) {
    svg.append('text')
        .attr('transform', `translate(${x},${y}) rotate(-90)`)
        .attr('text-anchor', 'middle')
        .attr('font-family', deja)
        .attr('font-size', 10.3)
        .attr('fill', '#222')
        .text('Altitude [m]');
}

// Wind column
windPanel({id: 'clipMco', xr: [48.4, 261.5], yr: [211.6, 60], frame: [48.2, 260.7, 52.3, 212.3], pad: 4, showY: true},
    lidarWindMco, lidarWindMcoAlts, lidarBarbAlts, lidarDirAlts, lidarWindMcoDirs, lidarWindMcoTop, lidarWindMcoGap);
windPanel({id: 'clipHlo', xr: [270, 480.7], yr: [211.6, 60], frame: [271.3, 481.4, 52.3, 212.3], pad: 4, showY: false},
    lidarWindHlo, lidarWindHloAlts, lidarBarbAlts, lidarDirAlts, lidarWindHloDirs, lidarWindHloTop);
windPanel({xr: [50.2, 262], yr: [440.6, 289.3], frame: [50, 262.7, 275.7, 439], pad: 2.5, showY: true},
    chemWindMco, modelWindAlts, modelBarbAlts, modelDirAlts, chemWindMcoDirs);
windPanel({xr: [270, 480.6], yr: [440.6, 289.3], frame: [269, 482, 275.7, 439], pad: 2.5, showY: false},
    chemWindHlo, modelWindAlts, modelBarbAlts, modelDirAlts, chemWindHloDirs);
windPanel({xr: [50.2, 262], yr: [664, 512.3], frame: [50, 263.4, 500.7, 663.3], pad: 3.5, showY: true},
    cfWindMco, modelWindAlts, modelBarbAlts, modelDirAlts, cfWindMcoDirs);
windPanel({xr: [270, 480.6], yr: [664, 512.3], frame: [269, 482.7, 500.7, 663.3], pad: 3.5, showY: false},
    cfWindHlo, modelWindAlts, modelBarbAlts, modelDirAlts, cfWindHloDirs);

// Ozone column
ozoneCellPanel({xr: [591.5, 797.4], yr: [206.5, 55.7], frame: [590.5, 797.6, 55.7, 206.2], pad: 6, showY: true},
    lidarO3Mco, lidarO3AltEdges, lidarO3McoHourEdges);
ozoneCellPanel({xr: [807.2, 1014.3], yr: [206.5, 55.7], frame: [807.5, 1013.9, 55.7, 206.2], pad: 6, showY: false},
    lidarO3Hlo, lidarO3AltEdges, lidarO3HloHourEdges);
ozoneContourPanel({xr: [592.6, 800], yr: [435.3, 277.7], frame: [593, 800, 277.7, 435.3], pad: 4, showY: true}, chemO3Mco, chemO3McoAlts);
ozoneContourPanel({xr: [809.2, 1016.3], yr: [435.3, 277.7], frame: [809.2, 1016.3, 277.7, 435.3], pad: 4, showY: false}, chemO3Hlo, chemO3HloAlts);
ozoneContourPanel({xr: [592.6, 800], yr: [661.7, 504.3], frame: [593, 800, 504.3, 661.7], pad: 4, showY: true}, cfO3Mco, cfO3McoAlts);
ozoneContourPanel({xr: [810, 1017], yr: [661.7, 504.3], frame: [810, 1017, 504.3, 661.7], pad: 4, showY: false}, cfO3Hlo, cfO3HloAlts);

// Colour bars
colorbar({x0: 494, x1: 498.6, y0: 52.3, y1: 212.7, tick: 1, labelX: 525, labelY: 135}, windBands, windColor, 15, windTicks, 6.3, 'wind speed [m/s]');
colorbar({x0: 496, x1: 500.7, y0: 275.7, y1: 438.3, tick: 1, labelX: 525, labelY: 358}, windBands, windColor, 15, windTicks, 6.3, 'wind speed [m/s]');
colorbar({x0: 496, x1: 501, y0: 500.7, y1: 663.3, tick: 1, labelX: 525, labelY: 583}, windBands, windColor, 15, windTicks, 6.3, 'wind speed [m/s]');
colorbar({x0: 1027, x1: 1034.6, y0: 55.7, y1: 206.7, tick: 2, labelX: 1066, labelY: 136}, ozoneBands, ozoneColor, 120, ozoneTicks, 10.4, 'O3 [PPBV]');
colorbar({x0: 1029, x1: 1037.4, y0: 277.7, y1: 435, tick: 2, labelX: 1066, labelY: 366}, ozoneBands, ozoneColor, 120, ozoneTicks, 10.4, 'O3 [PPBV]');
colorbar({x0: 1030, x1: 1038, y0: 504.3, y1: 661.7, tick: 2, labelX: 1066, labelY: 590}, ozoneBands, ozoneColor, 120, ozoneTicks, 10.4, 'O3 [PPBV]');

// Headings and labels
txt(11, 21, 'Wind Lidar', 15, {bold: true});
txt(15, 261, 'GEOS-Chem Winds', 15, {bold: true});
txt(16, 487, 'GEOS-CF Winds', 15, {bold: true});
txt(553, 19.5, 'Ozone Lidar', 15, {bold: true});
txt(554.5, 261, 'GEOS-Chem Ozone', 15, {bold: true});
txt(555, 487.5, 'GEOS-CF Ozone', 15, {bold: true});

txt(153, 41, 'MCO case', 15.5, {bold: true, anchor: 'middle'});
txt(377, 40, 'HLO case', 15.5, {bold: true, anchor: 'middle'});
txt(697, 42, 'MCO case', 15.5, {bold: true, anchor: 'middle'});
txt(917, 43, 'HLO case', 15.5, {bold: true, anchor: 'middle'});

txt(6, 47, 'a)', 14);
txt(6, 285, 'b)', 14);
txt(6, 507, 'c)', 14);
txt(547, 48, 'd)', 14);
txt(547, 281, 'e)', 14);
txt(550, 507, 'f)', 14);

txt(266, 234, 'Time [EDT]', 10.5, {anchor: 'middle', fill: '#333'});
txt(263.5, 461, 'Time [EDT]', 10.5, {anchor: 'middle', fill: '#333'});
txt(267.5, 688, 'Time [EDT]', 10.5, {anchor: 'middle', fill: '#333'});
txt(805, 235, 'Time [EDT]', 10.5, {anchor: 'middle', fill: '#333'});
txt(805, 462, 'Time [EDT]', 10.5, {anchor: 'middle', fill: '#333'});
txt(804.5, 688, 'Time [EDT]', 10.5, {anchor: 'middle', fill: '#333'});

altLabel(16, 135);
altLabel(16, 371);
altLabel(16, 589);
altLabel(558, 131);
altLabel(558, 357);
altLabel(558, 584);

// Section dividers
[[15, 1069, 243, 243], [15, 1069, 469, 469], [538.5, 538.5, 22, 675]].forEach(l => {
    svg.append('line')
        .attr('x1', l[0]).attr('x2', l[1]).attr('y1', l[2]).attr('y2', l[3])
        .attr('stroke', '#222').attr('stroke-width', 1.5);
});
</script>
</body>
</html>
